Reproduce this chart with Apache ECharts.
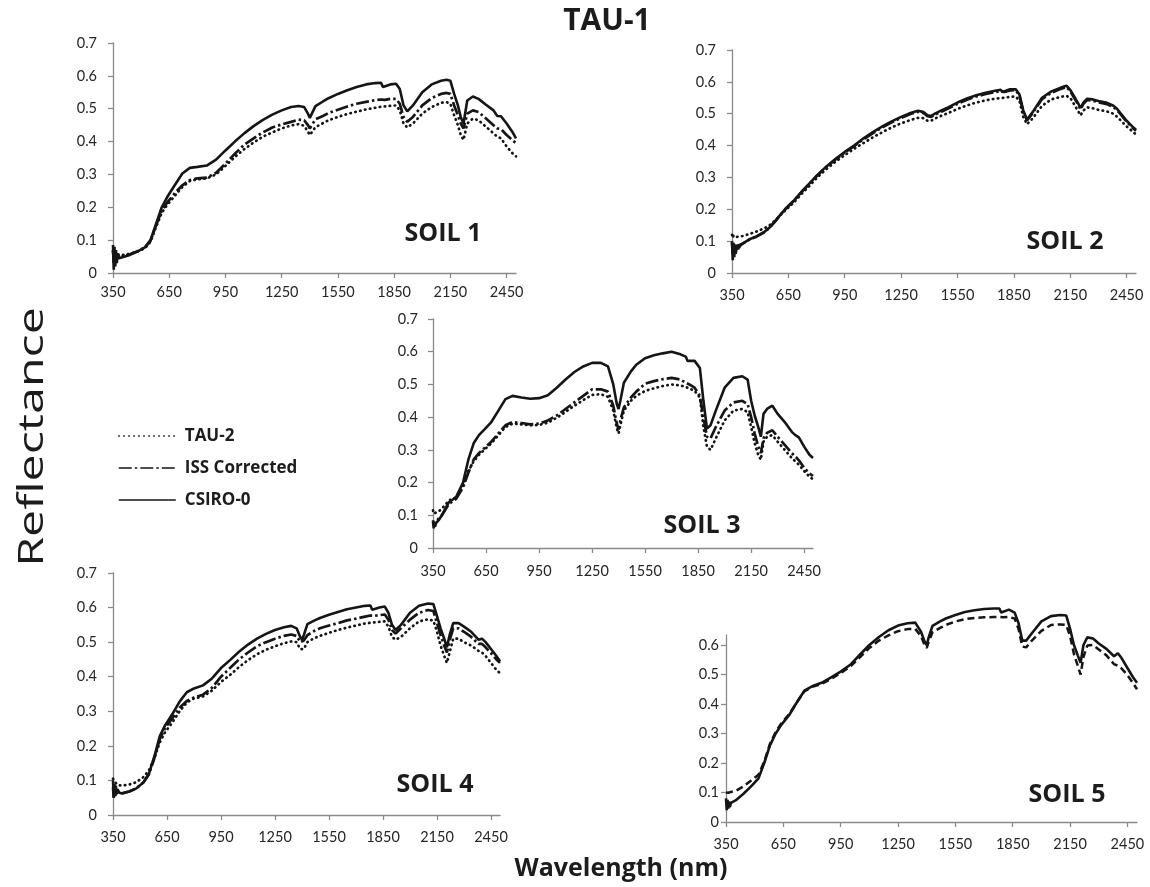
<!DOCTYPE html>
<html>
<head>
<meta charset="utf-8">
<script src="https://cdn.jsdelivr.net/npm/echarts@6/dist/echarts.min.js"></script>
<style>html,body{margin:0;padding:0;background:#fff}#c{width:1150px;height:887px}</style>
</head>
<body>
<div id="c"></div>
<script>
// Wavelength sample points (nm), shared by all panels
const WL = [350,354,358,362,366,370,376,382,
  400,440,480,520,550,580,610,640,680,720,760,800,850,900,950,1000,
  1050,1100,1150,1200,1250,1300,1340,1370,1390,1400,
  1410,1430,1470,1500,1550,1600,1650,1700,1750,1780,
  1790,1800,1830,1860,1880,1900,1920,1950,2000,2050,
  2100,2130,2150,2170,2190,2205,2220,2240,2270,2300,
  2340,2380,2400,2420,2450,2480,2500];

const X_TICKS = [350,650,950,1250,1550,1850,2150,2450];
const Y_TICKS = [0,0.1,0.2,0.3,0.4,0.5,0.6,0.7];
const Y_TICKS_5 = [0,0.1,0.2,0.3,0.4,0.5,0.6];

const SERIES_NAMES = ['TAU-2','ISS Corrected','CSIRO-0'];
const PANEL_LABELS = ['SOIL 1','SOIL 2','SOIL 3','SOIL 4','SOIL 5'];

// SOIL 1
const s1_csiro = [0.085,0.01,0.08,0.02,0.07,0.03,0.06,0.045,
  0.048,0.055,0.065,0.078,0.1,0.15,0.2,0.232,0.268,0.303,0.32,0.323,0.327,0.345,0.373,0.4,
  0.425,0.447,0.466,0.482,0.495,0.505,0.508,0.505,0.485,0.472,
  0.478,0.508,0.522,0.532,0.545,0.556,0.566,0.574,0.578,0.579,
  0.566,0.568,0.574,0.576,0.56,0.51,0.492,0.51,0.55,0.574,
  0.585,0.588,0.585,0.545,0.51,0.475,0.455,0.525,0.537,0.53,
  0.512,0.495,0.478,0.477,0.455,0.43,0.41];
const s1_iss = [0.07,0.03,0.065,0.035,0.06,0.04,0.055,0.048,
  0.05,0.057,0.066,0.078,0.098,0.145,0.19,0.215,0.243,0.267,0.283,0.288,0.29,0.305,0.333,0.363,
  0.39,0.41,0.428,0.443,0.452,0.46,0.467,0.465,0.45,0.44,
  0.445,0.468,0.478,0.487,0.497,0.507,0.515,0.521,0.526,0.528,
  0.525,0.527,0.53,0.53,0.515,0.475,0.46,0.475,0.51,0.532,
  0.545,0.548,0.545,0.51,0.48,0.455,0.44,0.485,0.495,0.49,
  0.47,0.45,0.44,0.438,0.42,0.405,0.395];
const s1_tau = [0.065,0.045,0.06,0.05,0.058,0.052,0.056,0.054,
  0.055,0.058,0.065,0.075,0.095,0.14,0.183,0.208,0.235,0.262,0.28,0.285,0.288,0.3,0.326,0.353,
  0.377,0.397,0.415,0.428,0.44,0.449,0.453,0.448,0.43,0.42,
  0.428,0.444,0.456,0.465,0.475,0.484,0.491,0.498,0.503,0.506,
  0.505,0.507,0.509,0.51,0.495,0.455,0.443,0.455,0.485,0.505,
  0.518,0.52,0.515,0.48,0.45,0.42,0.405,0.455,0.47,0.465,
  0.445,0.425,0.415,0.41,0.385,0.365,0.355];

// SOIL 2
const s2_csiro = [0.1,0.04,0.095,0.05,0.09,0.06,0.088,0.075,
  0.09,0.105,0.115,0.128,0.143,0.163,0.185,0.205,0.228,0.255,0.28,0.305,0.333,0.358,0.38,0.4,
  0.423,0.442,0.46,0.476,0.49,0.502,0.509,0.505,0.495,0.49,
  0.493,0.5,0.512,0.52,0.535,0.548,0.558,0.566,0.572,0.575,
  0.568,0.572,0.577,0.577,0.56,0.51,0.482,0.505,0.55,0.57,
  0.582,0.588,0.575,0.555,0.535,0.518,0.535,0.547,0.545,0.54,
  0.535,0.525,0.515,0.5,0.478,0.46,0.45];
const s2_iss = [0.095,0.06,0.09,0.065,0.088,0.07,0.085,0.08,
  0.09,0.104,0.114,0.127,0.142,0.162,0.184,0.204,0.227,0.254,0.279,0.304,0.332,0.356,0.378,0.398,
  0.42,0.439,0.457,0.473,0.487,0.499,0.506,0.502,0.492,0.487,
  0.49,0.497,0.508,0.516,0.531,0.544,0.554,0.562,0.568,0.571,
  0.565,0.568,0.573,0.574,0.556,0.506,0.479,0.502,0.546,0.566,
  0.578,0.584,0.571,0.551,0.531,0.514,0.531,0.543,0.541,0.536,
  0.531,0.521,0.511,0.497,0.475,0.457,0.447];
const s2_tau = [0.12,0.11,0.118,0.112,0.116,0.113,0.115,0.114,
  0.115,0.122,0.13,0.14,0.15,0.165,0.183,0.2,0.222,0.248,0.272,0.298,0.325,0.349,0.37,0.39,
  0.408,0.426,0.442,0.457,0.47,0.48,0.487,0.486,0.478,0.476,
  0.478,0.485,0.495,0.502,0.515,0.526,0.535,0.542,0.547,0.549,
  0.548,0.55,0.553,0.554,0.54,0.49,0.467,0.485,0.525,0.545,
  0.553,0.556,0.55,0.53,0.51,0.495,0.51,0.52,0.517,0.512,
  0.508,0.5,0.49,0.478,0.46,0.445,0.435];

// SOIL 3
const s3_csiro = [0.08,0.06,0.075,0.065,0.075,0.07,0.08,0.085,
  0.1,0.14,0.155,0.2,0.27,0.32,0.345,0.362,0.385,0.42,0.455,0.465,0.46,0.456,0.458,0.467,
  0.49,0.515,0.538,0.555,0.566,0.566,0.555,0.5,0.44,0.425,
  0.45,0.505,0.54,0.56,0.58,0.589,0.595,0.6,0.592,0.585,
  0.572,0.572,0.572,0.55,0.45,0.365,0.375,0.42,0.49,0.52,
  0.525,0.515,0.45,0.405,0.37,0.34,0.41,0.425,0.435,0.41,
  0.385,0.355,0.345,0.338,0.31,0.285,0.275];
const s3_iss = [0.085,0.07,0.08,0.072,0.08,0.078,0.085,0.09,
  0.1,0.135,0.15,0.185,0.23,0.27,0.29,0.305,0.325,0.35,0.375,0.385,0.382,0.378,0.38,0.39,
  0.405,0.425,0.445,0.465,0.485,0.485,0.478,0.435,0.38,0.362,
  0.39,0.43,0.46,0.478,0.502,0.51,0.516,0.52,0.515,0.505,
  0.503,0.5,0.49,0.465,0.4,0.34,0.335,0.37,0.42,0.445,
  0.45,0.44,0.4,0.35,0.31,0.29,0.335,0.352,0.36,0.34,
  0.315,0.29,0.28,0.268,0.245,0.228,0.22];
const s3_tau = [0.115,0.105,0.11,0.105,0.108,0.106,0.11,0.112,
  0.12,0.145,0.155,0.19,0.235,0.265,0.285,0.3,0.32,0.345,0.37,0.38,0.378,0.375,0.376,0.383,
  0.398,0.416,0.435,0.452,0.468,0.47,0.462,0.42,0.365,0.35,
  0.375,0.42,0.45,0.465,0.48,0.488,0.495,0.5,0.497,0.492,
  0.49,0.488,0.48,0.46,0.37,0.31,0.3,0.335,0.39,0.42,
  0.425,0.415,0.37,0.32,0.285,0.27,0.325,0.34,0.345,0.325,
  0.3,0.275,0.265,0.255,0.235,0.218,0.21];

// SOIL 4
const s4_csiro = [0.1,0.05,0.09,0.055,0.085,0.06,0.075,0.065,
  0.062,0.068,0.077,0.095,0.12,0.17,0.228,0.26,0.292,0.328,0.355,0.366,0.375,0.395,0.425,0.448,
  0.472,0.493,0.51,0.524,0.535,0.543,0.547,0.54,0.515,0.508,
  0.52,0.552,0.563,0.57,0.579,0.587,0.595,0.6,0.605,0.606,
  0.594,0.595,0.6,0.603,0.585,0.55,0.535,0.55,0.585,0.605,
  0.612,0.61,0.575,0.54,0.51,0.485,0.52,0.555,0.555,0.545,
  0.53,0.507,0.51,0.5,0.48,0.46,0.445];
const s4_iss = [0.08,0.05,0.075,0.055,0.07,0.06,0.068,0.063,
  0.063,0.068,0.077,0.095,0.118,0.165,0.22,0.252,0.28,0.31,0.33,0.34,0.348,0.368,0.4,0.425,
  0.45,0.47,0.488,0.5,0.51,0.518,0.522,0.518,0.5,0.495,
  0.505,0.52,0.533,0.54,0.548,0.555,0.563,0.568,0.574,0.577,
  0.575,0.576,0.578,0.58,0.565,0.535,0.525,0.54,0.565,0.585,
  0.593,0.59,0.555,0.52,0.49,0.47,0.505,0.54,0.54,0.53,
  0.515,0.495,0.495,0.485,0.468,0.45,0.44];
const s4_tau = [0.105,0.1,0.098,0.095,0.093,0.09,0.088,0.086,
  0.085,0.088,0.095,0.11,0.13,0.165,0.21,0.24,0.268,0.3,0.325,0.337,0.343,0.36,0.385,0.405,
  0.428,0.448,0.465,0.478,0.488,0.497,0.502,0.5,0.48,0.475,
  0.48,0.5,0.512,0.518,0.527,0.535,0.542,0.548,0.554,0.556,
  0.556,0.557,0.559,0.56,0.545,0.515,0.507,0.515,0.54,0.56,
  0.566,0.562,0.53,0.49,0.46,0.44,0.47,0.51,0.51,0.5,
  0.49,0.475,0.47,0.46,0.44,0.42,0.41];

// SOIL 5
const s5_csiro = [0.08,0.04,0.075,0.045,0.07,0.05,0.065,0.06,
  0.073,0.095,0.12,0.148,0.2,0.26,0.3,0.33,0.362,0.405,0.445,0.46,0.472,0.49,0.51,0.533,
  0.567,0.6,0.627,0.65,0.666,0.674,0.676,0.645,0.61,0.6,
  0.625,0.665,0.68,0.69,0.702,0.712,0.718,0.722,0.724,0.724,
  0.71,0.712,0.72,0.71,0.675,0.615,0.615,0.64,0.68,0.698,
  0.702,0.7,0.655,0.6,0.565,0.54,0.6,0.626,0.622,0.605,
  0.587,0.562,0.572,0.555,0.522,0.49,0.472];
const s5_tau = [0.1,0.098,0.1,0.099,0.1,0.1,0.102,0.103,
  0.105,0.12,0.14,0.16,0.205,0.265,0.305,0.335,0.365,0.405,0.443,0.458,0.468,0.485,0.505,0.527,
  0.558,0.59,0.615,0.633,0.647,0.654,0.655,0.63,0.598,0.59,
  0.61,0.643,0.658,0.668,0.68,0.688,0.692,0.694,0.695,0.695,
  0.694,0.694,0.695,0.69,0.655,0.595,0.592,0.615,0.648,0.668,
  0.67,0.668,0.63,0.57,0.53,0.5,0.56,0.598,0.6,0.585,
  0.565,0.535,0.53,0.52,0.498,0.47,0.45];

const FONT = 'Lato, "Liberation Sans", sans-serif';
const BOLD = '"Open Sans", "Noto Sans", sans-serif';
const AXIS_COLOR = '#8a8a8a';
const LABEL_COLOR = '#262626';
const INK = '#151515';

const panels = [
  {grid:{left:113, top:43, width:403, height:230}, ymax:0.7, yt:Y_TICKS, ym:16, xm:12,
   data:[s1_tau, s1_iss, s1_csiro], label:[443,234]},
  {grid:{left:732, top:50, width:404, height:223}, ymax:0.7, yt:Y_TICKS, ym:16, xm:15,
   data:[s2_tau, s2_iss, s2_csiro], label:[1065,242]},
  {grid:{left:433, top:319, width:380, height:229}, ymax:0.7, yt:Y_TICKS, ym:15, xm:16,
   data:[s3_tau, s3_iss, s3_csiro], label:[702,526]},
  {grid:{left:113, top:573, width:387, height:242}, ymax:0.7, yt:Y_TICKS, ym:16, xm:15,
   data:[s4_tau, s4_iss, s4_csiro], label:[435,785]},
  {grid:{left:726, top:635, width:411, height:187}, ymax:0.634, yt:Y_TICKS_5, ym:7, xm:15,
   data:[s5_tau, null, s5_csiro], label:[1067,795], dashed:true}
];

const styles = {
  'TAU-2': {type:[0.5,4.5], width:2.7, cap:'round'},
  'ISS Corrected': {type:[13,3,2.5,3], width:2.7, cap:'butt'},
  'CSIRO-0': {type:'solid', width:2.6, cap:'butt'}
};

const grids = [], xAxes = [], yAxes = [], series = [], graphics = [];
panels.forEach((p, i) => {
  grids.push(Object.assign({containLabel:false}, p.grid));
  xAxes.push({
    type:'value', gridIndex:i, min:350, max:2500,
    axisLine:{show:true, lineStyle:{color:AXIS_COLOR, width:1.3}},
    axisTick:{show:true, length:5, lineStyle:{color:AXIS_COLOR, width:1.3}, customValues:X_TICKS},
    axisLabel:{margin:p.xm, color:LABEL_COLOR, fontFamily:FONT, fontSize:14.5, customValues:X_TICKS,
               formatter:v => String(v)},
    splitLine:{show:false}
  });
  yAxes.push({
    type:'value', gridIndex:i, min:0, max:p.ymax,
    axisLine:{show:true, lineStyle:{color:AXIS_COLOR, width:1.3}},
    axisTick:{show:true, length:5, lineStyle:{color:AXIS_COLOR, width:1.3}, customValues:p.yt},
    axisLabel:{margin:p.ym, color:LABEL_COLOR, fontFamily:FONT, fontSize:14.5, customValues:p.yt,
               formatter:v => String(+v.toFixed(1))},
    splitLine:{show:false}
  });
  p.data.forEach((arr, k) => {
    if (!arr) return;
    const name = SERIES_NAMES[k];
    let ls = Object.assign({color:INK}, styles[name]);
    if (p.dashed && name === 'TAU-2') ls = {color:INK, type:[7,4], width:2.5, cap:'butt'};
    series.push({
      type:'line', name:name, xAxisIndex:i, yAxisIndex:i,
      data: WL.map((w, j) => [w, arr[j]]),
      symbol:'none', showSymbol:false, clip:false, silent:true, animation:false,
      itemStyle:{color:INK},
      lineStyle: ls, z: k === 2 ? 3 : 2
    });
  });
  graphics.push({type:'text', silent:true,
    style:{text:PANEL_LABELS[i], x:p.label[0], y:p.label[1], align:'center', verticalAlign:'middle',
           font:'bold 25px ' + BOLD, fill:'#1c1c1c'}});
});

graphics.push({type:'text', silent:true,
  style:{text:'TAU-1', x:607, y:21, align:'center', verticalAlign:'middle', font:'bold 30px ' + BOLD, fill:'#1c1c1c'}});
graphics.push({type:'text', silent:true,
  style:{text:'Wavelength (nm)', x:621, y:869, align:'center', verticalAlign:'middle', font:'bold 25px ' + BOLD, fill:'#1c1c1c'}});
graphics.push({type:'text', silent:true, x:33, y:437, rotation:Math.PI/2, scaleX:1.38, scaleY:1,
  style:{text:'Reflectance', x:0, y:0, align:'center', verticalAlign:'middle', font:'35px "Open Sans", sans-serif', fill:'#1c1c1c'}});

const chart = echarts.init(document.getElementById('c'), null, {renderer:'canvas'});
chart.setOption({
  animation:false,
  backgroundColor:'#ffffff',
  grid: grids, xAxis: xAxes, yAxis: yAxes, series: series,
  legend:{
    data: SERIES_NAMES, orient:'vertical', left:113, top:421,
    itemWidth:57, itemHeight:14, itemGap:12, selectedMode:false,
    itemStyle:{opacity:0},
    lineStyle:{width:1.6},
    textStyle:{fontFamily:BOLD, fontWeight:'bold', fontSize:17, color:'#1c1c1c', lineHeight:20, padding:[0,0,0,4]}
  },
  graphic: graphics
});
</script>
</body>
</html>
